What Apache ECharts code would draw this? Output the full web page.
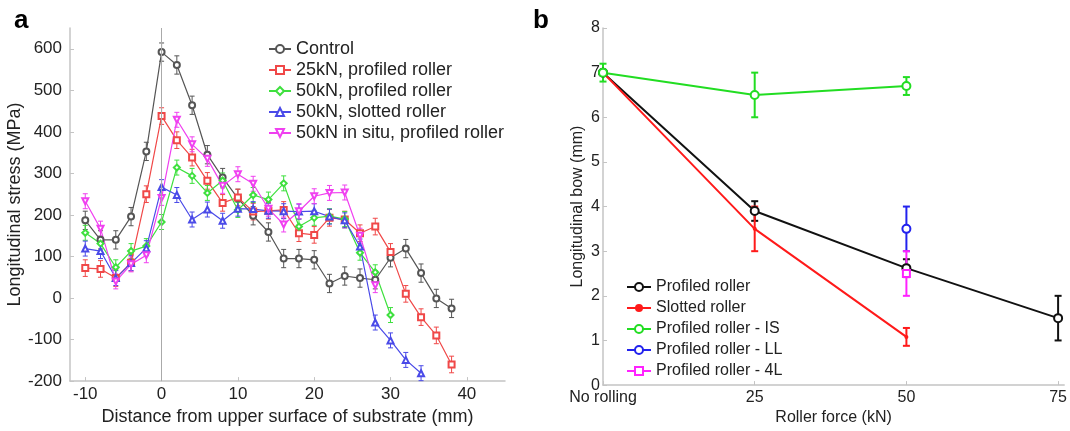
<!DOCTYPE html>
<html>
<head>
<meta charset="utf-8">
<script src="https://cdn.jsdelivr.net/npm/echarts@6/dist/echarts.min.js"></script>
<style>
  html, body { margin: 0; padding: 0; background: #fff; }
  #main { width: 1070px; height: 431px; }
</style>
</head>
<body>
<div id="main"></div>
<script>
// ---- 图a 数据: 距离(mm) / 纵向应力(MPa)
var distance = [-10, -8, -6, -4, -2, 0, 2, 4, 6, 8, 10, 12, 14, 16, 18, 20, 22, 24, 26, 28, 30, 32, 34, 36, 38];
var control = [187, 140, 140, 196, 353, 592, 561, 464, 345, 290, 240, 198, 159, 95, 95, 92, 35, 53, 48, 44, 97, 119, 60, -1, -25];
var profiled25 = [72, 70, 48, 85, 250, 438, 380, 338, 282, 229, 242, 208, 210, 212, 156, 152, 193, 189, 156, 172, 111, 10, -46, -90, -160];
var profiled50 = [157, 131, 74, 113, 125, 183, 314, 294, 253, 283, 212, 248, 237, 276, 172, 193, 197, 190, 109, 62, -41];
var slotted50 = [119, 113, 48, 84, 120, 267, 248, 189, 213, 186, 215, 214, 210, 209, 208, 209, 196, 187, 124, -59, -102, -149, -181];
var insitu50 = [233, 167, 40, 81, 103, 241, 429, 370, 335, 270, 298, 275, 215, 177, 209, 245, 253, 254, 150, 31];
// 误差棒 (±MPa, 每条曲线一个估计值)
var errControl = 22, errP25 = 20, errP50 = 18, errS50 = 18, errIS50 = 18;
var xTicksA = [-10, 0, 10, 20, 30, 40];
var yTicksA = [-200, -100, 0, 100, 200, 300, 400, 500, 600];

// ---- 图b 数据: 滚压力(kN) / 纵向弯曲(mm)
var force = [0, 25, 50, 75];
var forceLabels = ['No rolling', '25', '50', '75'];
var bowProfiled = [7.0, 3.9, 2.62, 1.5];
var errProfiled = [0, 0.22, 0.2, 0.5];
var bowSlotted = [7.0, 3.5, 1.08];
var errSlotted = [0, 0.5, 0.2];
var bowIS = [7.0, 6.5, 6.7];
var errIS = [0.2, 0.5, 0.2];
var bowLL = [3.5];     // 50kN
var errLL = [0.5];
var bow4L = [2.5];     // 50kN
var err4L = [0.5];

(function () {
    var myChart = echarts.init(document.getElementById('main'));
    var font = 'Liberation Sans, Arial, sans-serif';
    var axisGray = '#c4c4c4';

    // 把 x 和 y 拼成点
    function pts(xs, ys) {
        return ys.map(function (v, i) { return [xs[i], v]; });
    }
    // 误差棒数据 [x, 下限, 上限]
    function errPts(xs, ys, err) {
        return ys.map(function (v, i) {
            var e = Array.isArray(err) ? err[i] : err;
            return [xs[i], v - e, v + e];
        });
    }
    // 自定义系列画误差棒
    function errSeries(data, color, axisIdx, cap, width) {
        return {
            type: 'custom',
            xAxisIndex: axisIdx,
            yAxisIndex: axisIdx,
            silent: true,
            z: 1,
            encode: { x: 0, y: [1, 2] },
            data: data.filter(function (d) { return d[2] - d[1] > 0; }),
            renderItem: function (params, api) {
                var x = api.value(0);
                var lo = api.coord([x, api.value(1)]);
                var hi = api.coord([x, api.value(2)]);
                var st = { stroke: color, lineWidth: width };
                return {
                    type: 'group',
                    children: [
                        { type: 'line', shape: { x1: lo[0], y1: lo[1], x2: hi[0], y2: hi[1] }, style: st },
                        { type: 'line', shape: { x1: hi[0] - cap, y1: hi[1], x2: hi[0] + cap, y2: hi[1] }, style: st },
                        { type: 'line', shape: { x1: lo[0] - cap, y1: lo[1], x2: lo[0] + cap, y2: lo[1] }, style: st }
                    ]
                };
            }
        };
    }
    // 折线
    function lineA(name, ys, color, symbol, rotate) {
        return {
            name: name, type: 'line', xAxisIndex: 0, yAxisIndex: 0,
            data: pts(distance, ys),
            symbol: symbol, symbolSize: 6, symbolRotate: rotate || 0,
            lineStyle: { color: color, width: 1.2 },
            itemStyle: { color: color, borderWidth: 1 },
            z: 3
        };
    }
    function lineB(name, xs, ys, color, symbol, size) {
        return {
            name: name, type: 'line', xAxisIndex: 1, yAxisIndex: 1,
            data: pts(xs, ys),
            symbol: symbol, symbolSize: size, showAllSymbol: true,
            lineStyle: { color: color, width: 2 },
            itemStyle: { color: color, borderWidth: 1.5 },
            z: 3
        };
    }

    var cA = { control: '#555555', p25: '#f04848', p50: '#3ee03e', s50: '#4a4ae8', is50: '#f040f0' };
    var cB = { prof: '#111111', slot: '#ff1a1a', is: '#22dd22', ll: '#2222ee', l4: '#ff22ff' };

    var namesA = ['Control', '25kN, profiled roller', '50kN, profiled roller', '50kN, slotted roller', '50kN in situ, profiled roller'];
    var namesB = ['Profiled roller', 'Slotted roller', 'Profiled roller - IS', 'Profiled roller - LL', 'Profiled roller - 4L'];

    var seriesCtrl = lineA(namesA[0], control, cA.control, 'emptyCircle');
    // x=0 处的竖线
    seriesCtrl.markLine = {
        silent: true, symbol: ['none', 'none'], label: { show: false },
        lineStyle: { color: '#aaaaaa', width: 1, type: 'solid' },
        data: [{ xAxis: 0 }]
    };

    var option = {
        animation: false,
        backgroundColor: '#fff',
        textStyle: { fontFamily: font },
        graphic: [
            { type: 'text', left: 14, top: 8, style: { text: 'a', font: 'bold 26px ' + font, fill: '#000' } },
            { type: 'text', left: 533, top: 8, style: { text: 'b', font: 'bold 26px ' + font, fill: '#000' } }
        ],
        grid: [
            { left: 70, top: 28, right: 565, bottom: 39 },
            { left: 603, top: 28, right: 3, bottom: 39 }
        ],
        legend: [{
            data: namesA,
            orient: 'vertical', left: 263, top: 35,
            itemWidth: 22, itemHeight: 10, itemGap: 3,
            textStyle: { fontSize: 18, lineHeight: 18, color: '#222', fontFamily: font }
        }, {
            data: namesB,
            orient: 'vertical', left: 621, top: 272,
            itemWidth: 24, itemHeight: 10, itemGap: 1,
            textStyle: { fontSize: 16, lineHeight: 20, color: '#222', fontFamily: font }
        }],
        xAxis: [{
            type: 'value', gridIndex: 0, min: -12, max: 45,
            name: 'Distance from upper surface of substrate (mm)',
            nameLocation: 'middle', nameGap: 21,
            nameTextStyle: { fontSize: 18, color: '#222' },
            axisLine: { onZero: false, lineStyle: { color: axisGray, width: 1.5 } },
            axisTick: { inside: true, length: 4, customValues: xTicksA, lineStyle: { color: axisGray } },
            axisLabel: { customValues: xTicksA, fontSize: 17, color: '#222', margin: 5 },
            splitLine: { show: false }
        }, {
            type: 'value', gridIndex: 1, min: 0, max: 76,
            name: 'Roller force (kN)',
            nameLocation: 'middle', nameGap: 20,
            nameTextStyle: { fontSize: 16, color: '#222' },
            axisLine: { onZero: false, lineStyle: { color: axisGray, width: 1.5 } },
            axisTick: { inside: true, length: 4, customValues: force, lineStyle: { color: axisGray } },
            axisLabel: {
                customValues: force, fontSize: 16, color: '#222', margin: 4,
                formatter: function (v) { return forceLabels[force.indexOf(v)]; }
            },
            splitLine: { show: false }
        }],
        yAxis: [{
            type: 'value', gridIndex: 0, min: -200, max: 650,
            name: 'Longitudinal stress (MPa)',
            nameLocation: 'middle', nameGap: 41,
            nameTextStyle: { fontSize: 18, color: '#222' },
            axisLine: { show: true, onZero: false, lineStyle: { color: axisGray, width: 1.5 } },
            axisTick: { show: true, inside: true, length: 4, customValues: yTicksA, lineStyle: { color: axisGray } },
            axisLabel: { customValues: yTicksA, fontSize: 17, color: '#222', margin: 8 },
            splitLine: { show: false }
        }, {
            type: 'value', gridIndex: 1, min: 0, max: 8, interval: 1,
            name: 'Longitudinal bow (mm)',
            nameLocation: 'middle', nameGap: 17,
            nameTextStyle: { fontSize: 16, color: '#222' },
            axisLine: { show: true, onZero: false, lineStyle: { color: axisGray, width: 1.5 } },
            axisTick: { show: true, inside: true, length: 4, lineStyle: { color: axisGray } },
            axisLabel: { fontSize: 16, color: '#222', margin: 3 },
            splitLine: { show: false }
        }],
        series: [
            // 图a
            errSeries(errPts(distance, control, errControl), cA.control, 0, 2.5, 1),
            errSeries(errPts(distance, profiled25, errP25), cA.p25, 0, 2.5, 1),
            errSeries(errPts(distance, profiled50, errP50), cA.p50, 0, 2.5, 1),
            errSeries(errPts(distance, slotted50, errS50), cA.s50, 0, 2.5, 1),
            errSeries(errPts(distance, insitu50, errIS50), cA.is50, 0, 2.5, 1),
            seriesCtrl,
            lineA(namesA[1], profiled25, cA.p25, 'emptyRect'),
            lineA(namesA[2], profiled50, cA.p50, 'emptyDiamond'),
            lineA(namesA[3], slotted50, cA.s50, 'emptyTriangle'),
            lineA(namesA[4], insitu50, cA.is50, 'emptyTriangle', 180),
            // 图b
            lineB(namesB[0], force, bowProfiled, cB.prof, 'emptyCircle', 8),
            lineB(namesB[1], force, bowSlotted, cB.slot, 'circle', 4),
            lineB(namesB[2], force, bowIS, cB.is, 'emptyCircle', 8),
            lineB(namesB[3], [50], bowLL, cB.ll, 'emptyCircle', 8),
            lineB(namesB[4], [50], bow4L, cB.l4, 'emptyRect', 7),
            errSeries(errPts(force, bowProfiled, errProfiled), cB.prof, 1, 3.5, 2),
            errSeries(errPts(force, bowSlotted, errSlotted), cB.slot, 1, 3.5, 2),
            errSeries(errPts(force, bowIS, errIS), cB.is, 1, 3.5, 2),
            errSeries(errPts([50], bowLL, errLL), cB.ll, 1, 3.5, 2),
            errSeries(errPts([50], bow4L, err4L), cB.l4, 1, 3.5, 2)
        ]
    };
    myChart.setOption(option);
    window.addEventListener('resize', function () {
        myChart.resize();
    });
})();
</script>
</body>
</html>
